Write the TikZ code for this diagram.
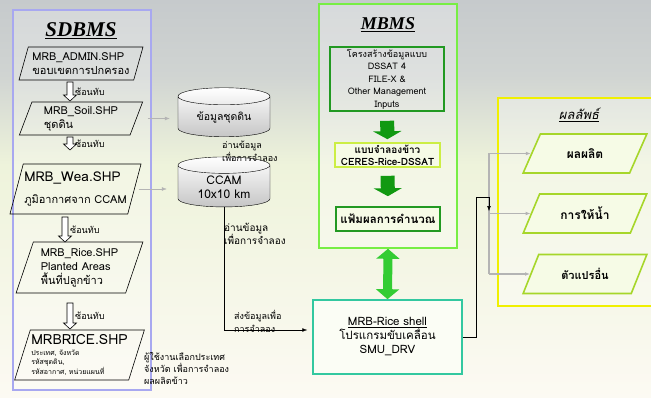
\documentclass[tikz,border=0pt]{standalone}
\usepackage{fontspec}
\setmainfont{Loma}[Script=Thai]
\newfontfamily\titlefont{Liberation Serif}
\usepackage{tikz}
\usetikzlibrary{arrows.meta,positioning,calc,shapes.geometric}
\definecolor{BgTop}{HTML}{C6CACC}
\definecolor{BgGrey}{HTML}{D0D4D2}
\definecolor{BgMid}{HTML}{EEF3DB}
\definecolor{BgBot}{HTML}{FCFAF3}
\definecolor{Lav}{HTML}{A8A8F0}
\definecolor{Lime}{HTML}{77EE44}
\definecolor{Leaf}{HTML}{229922}
\definecolor{YGreen}{HTML}{CCEE44}
\definecolor{Arrow}{HTML}{119911}
\definecolor{Bright}{HTML}{33CC33}
\definecolor{Teal}{HTML}{33C8A0}
\definecolor{Sun}{HTML}{F0F000}
\definecolor{Olive}{HTML}{A6D62A}
\definecolor{Pale}{HTML}{F6FBE6}
\definecolor{Ash}{HTML}{B4B4B4}
\newcommand{\fsz}[2]{\fontsize{#1}{#2}\selectfont}

\begin{document}
\begin{tikzpicture}[x=1pt,y=-1pt,>=Latex,every node/.style={align=center,inner sep=1pt},
  para/.style={trapezium,trapezium left angle=70,trapezium right angle=110,trapezium stretches=true,draw,line width=0.6pt,align=left,minimum width=124,minimum height=33},
  db/.style={cylinder,shape border rotate=90,aspect=0.3,draw,top color=white,bottom color=gray!45,minimum width=92,minimum height=49},
  mbox/.style={draw,line width=1.6pt,minimum width=104,minimum height=24},
  resbox/.style={trapezium,trapezium left angle=58,trapezium right angle=122,trapezium stretches=true,draw=Olive,line width=1.6pt,fill=Pale,minimum width=124,minimum height=39,font=\bfseries\fsz{12}{14}},
  gline/.style={draw=Ash,line width=1.8pt},
  blk/.style={line width=14pt,Arrow,-{Triangle[width=28pt,length=8pt]}}]
  \useasboundingbox (0,0) rectangle (651,398);
  % background bands
  \fill[top color=BgTop,bottom color=BgGrey] (0,0) rectangle (651,75);
  \fill[top color=BgGrey,bottom color=BgMid] (0,75) rectangle (651,165);
  \fill[top color=BgMid,bottom color=BgBot] (0,165) rectangle (651,398);

  % SDBMS
  \node[draw=Lav,line width=1.2pt,fill=white,fill opacity=.25,minimum width=138,minimum height=380] (sd) at (82,200) {};
  \node[font=\titlefont\bfseries\itshape\fsz{21}{24}] (sdt) at (81,31) {\underline{SDBMS}};
  \node[para,font=\fsz{11}{14}] (p1) at (81,63.5) {MRB\_ADMIN.SHP\\ขอบเขตการปกครอง};
  \node[para,font=\fsz{11}{14}] (p2) at (81,118.5) {MRB\_Soil.SHP\\ชุดดิน};
  \node[para,minimum width=125,minimum height=50,font=\fsz{11}{14}] (p3) at (75.5,189) {{\fsz{13.5}{16}MRB\_Wea.SHP}\\[8pt]ภูมิอากาศจาก CCAM};
  \node[para,minimum width=127,minimum height=51,font=\fsz{11}{14}] (p4) at (79.5,267.5) {MRB\_Rice.SHP\\Planted Areas\\พื้นที่ปลูกข้าว};
  \node[para,minimum width=129,minimum height=50,font=\fsz{7}{9}] (p5) at (79.5,355) {{\fsz{14}{16}MRBRICE.SHP}\\[2pt]ประเทศ, จังหวัด\\รหัสชุดดิน,\\รหัสอากาศ, หน่วยแผนที่};
  % overlay arrows
  \foreach \n/\x/\y/\l in {ov1/70/82/19,ov2/70/137/13,ov3/65/217/25,ov4/70/303/26}{
    \draw[fill=white,line width=0.6pt] (\x-3,\y) -- ++(6,0) -- ++(0,\l-6) -- ++(3.5,0) -- ++(-6.5,6) -- ++(-6.5,-6) -- ++(3.5,0) -- cycle;
    \node[anchor=west,font=\fsz{9}{11}] (\n) at (\x+4,\y+\l/2) {ซ้อนทับ};
  }

  % databases
  \node[db,font=\fsz{10.5}{13}] (c1) at (224,117.5) {ข้อมูลชุดดิน};
  \node[db,minimum height=50,font=\fsz{12}{14}] (c2) at (224,187) {CCAM\\10x10 km};
  \draw[Ash,->,shorten <=11pt,shorten >=8pt] (p2.east) -- (p2.east -| c1.west);
  \draw[Ash,->,shorten <=4pt,shorten >=11pt] (p3.east) -- (p3.east -| c2.west);
  \node[anchor=north west,align=left,font=\fsz{9}{11}] (r1) at (221,140) {อ่านข้อมูล\\เพื่อการจำลอง};
  \node[anchor=north west,align=left,font=\fsz{10}{13}] (r2) at (223,222) {อ่านข้อมูล\\เพื่อการจำลอง};
  \node[anchor=north west,align=left,font=\fsz{9}{13}] (snd) at (233,309) {ส่งข้อมูลเพื่อ\\การจำลอง};
  \node[anchor=north west,align=left,font=\fsz{9}{11.5}] (usr) at (143,351) {ผู้ใช้งานเลือกประเทศ\\จังหวัด เพื่อการจำลอง\\ผลผลิตข้าว};

  % MBMS
  \node[draw=Lime,line width=1.6pt,fill=white,fill opacity=.3,minimum width=138,minimum height=244] (mb) at (388,126) {};
  \node[font=\titlefont\bfseries\itshape\fsz{18}{20}] (mbt) at (388,25) {\underline{MBMS}};
  \node[mbox,draw=Leaf,minimum width=114,minimum height=64,font=\fsz{9}{12.5}] (m1) at (387,79) {โครงสร้างข้อมูลแบบ\\DSSAT 4\\FILE-X \&\\Other Management\\Inputs};
  \node[mbox,draw=YGreen,fill=Pale,minimum width=105,font=\bfseries\fsz{10}{12}] (m2) at (387.5,155) {แบบจำลองข้าว\\CERES-Rice-DSSAT};
  \node[mbox,draw=Leaf,fill=Pale,font=\bfseries\fsz{11.5}{14}] (m3) at (388,219) {แฟ้มผลการคำนวณ};
  \draw[blk,shorten <=9pt,shorten >=3pt] (m1.south) -- (m2.north);
  \draw[blk,shorten <=8pt,shorten >=10pt] (m2.south) -- (m3.north);

  % shell
  \node[draw=Teal,line width=1.6pt,fill=Pale!40!white,minimum width=149,minimum height=74,font=\fsz{11.5}{14}] (shell) at (387.5,337) {\underline{MRB-Rice shell}\\โปรแกรมขับเคลื่อน\\SMU\_DRV};
  \draw[line width=9pt,Bright,{Triangle[width=23pt,length=10pt]}-{Triangle[width=23pt,length=10pt]}] (mb.south) -- (shell.north);
  \draw[->] (c2.south) |- ([xshift=-5pt,yshift=7pt]shell.west);

  % results
  \coordinate (hub) at (489,211);
  \node[draw=Sun,line width=1.6pt,fill=white,fill opacity=.3,minimum width=170,minimum height=208] (res) at (583,202) {};
  \node[font=\itshape\fsz{13}{15}] (rest) at (579,115) {\underline{ผลลัพธ์}};
  \node[resbox] (q1) at (585,153.5) {ผลผลิต};
  \node[resbox] (q2) at (585,213.5) {การให้น้ำ};
  \node[resbox,font=\bfseries\fsz{11}{13}] (q3) at (585,274) {ตัวแปรอื่น};
  \draw[gline] (hub |- q1.west) -- (hub |- q3.west);
  \foreach \q in {q1,q2,q3}
    \draw[gline,line width=1.2pt,-{Latex[length=5pt]}] (hub |- \q.west) -- (\q.west);
  \draw[->] (shell.east) -- ++(13,0) |- ([yshift=14pt]hub) -- (hub);
\end{tikzpicture}
\end{document}
